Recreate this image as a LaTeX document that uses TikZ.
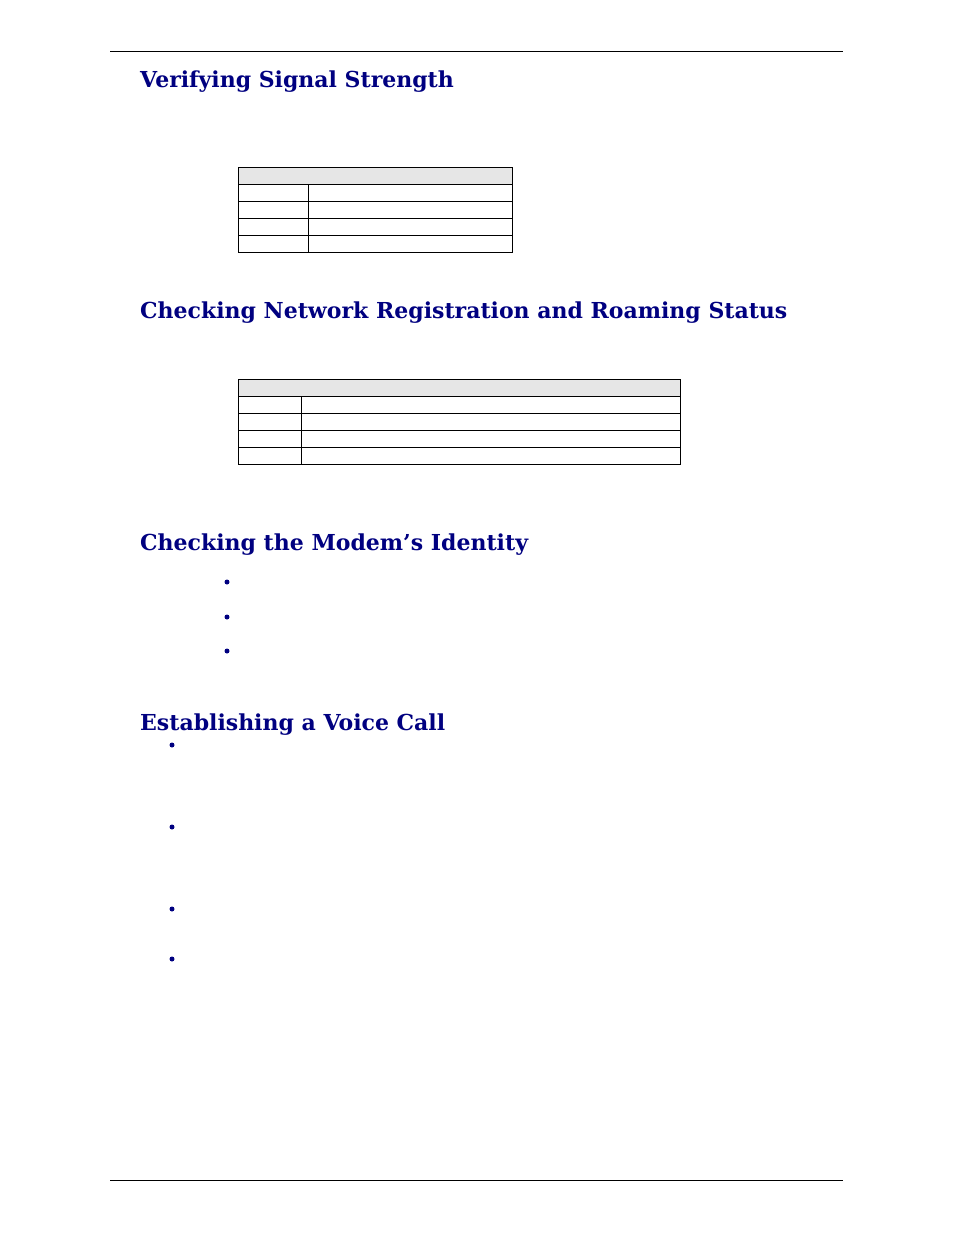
\documentclass[tikz,border=0pt]{standalone}
\usepackage{fontspec}
\setmainfont{DejaVu Serif}
\definecolor{navy}{RGB}{0,0,128}
\definecolor{hdr}{RGB}{230,230,230}
\begin{document}
\begin{tikzpicture}[x=1pt,y=-1pt,
  heading/.style={anchor=base west,inner sep=0,text=navy,font=\bfseries\fontsize{22}{26}\selectfont},
  cell/.style={draw=black,line width=0.6pt},
  bul/.style={circle,fill=navy,inner sep=0,minimum size=5pt}]
\useasboundingbox (0,0) rectangle (954,1235);
\coordinate (tl) at (110,51); \coordinate (tr) at (843,51);
\coordinate (bl) at (110,1180); \coordinate (br) at (843,1180);
\draw[line width=0.7pt] (tl) -- (tr);
\draw[line width=0.7pt] (bl) -- (br);
\node[heading] (h1) at (140,87) {Verifying Signal Strength};
\node[heading] (h2) at (140,318) {Checking Network Registration and Roaming Status};
\node[heading] (h3) at (140,550) {Checking the Modem\char"0027 s Identity};
\node[heading] (h4) at (140,730) {Establishing a Voice Call};
% table 1
\filldraw[cell,fill=hdr] (238,167) rectangle (512,184);
\foreach \y in {184,201,218,235} \draw[cell] (238,\y) rectangle (512,\y+17);
\draw[cell] (308,184) -- (308,252);
% table 2
\filldraw[cell,fill=hdr] (238,379) rectangle (680,396);
\foreach \y in {396,413,430,447} \draw[cell] (238,\y) rectangle (680,\y+17);
\draw[cell] (301,396) -- (301,464);
\foreach \y [count=\i] in {582,617,651} \node[bul] (a\i) at (227,\y) {};
\foreach \y [count=\i] in {745,827,909,959} \node[bul] (b\i) at (172,\y) {};
\end{tikzpicture}
\end{document}
